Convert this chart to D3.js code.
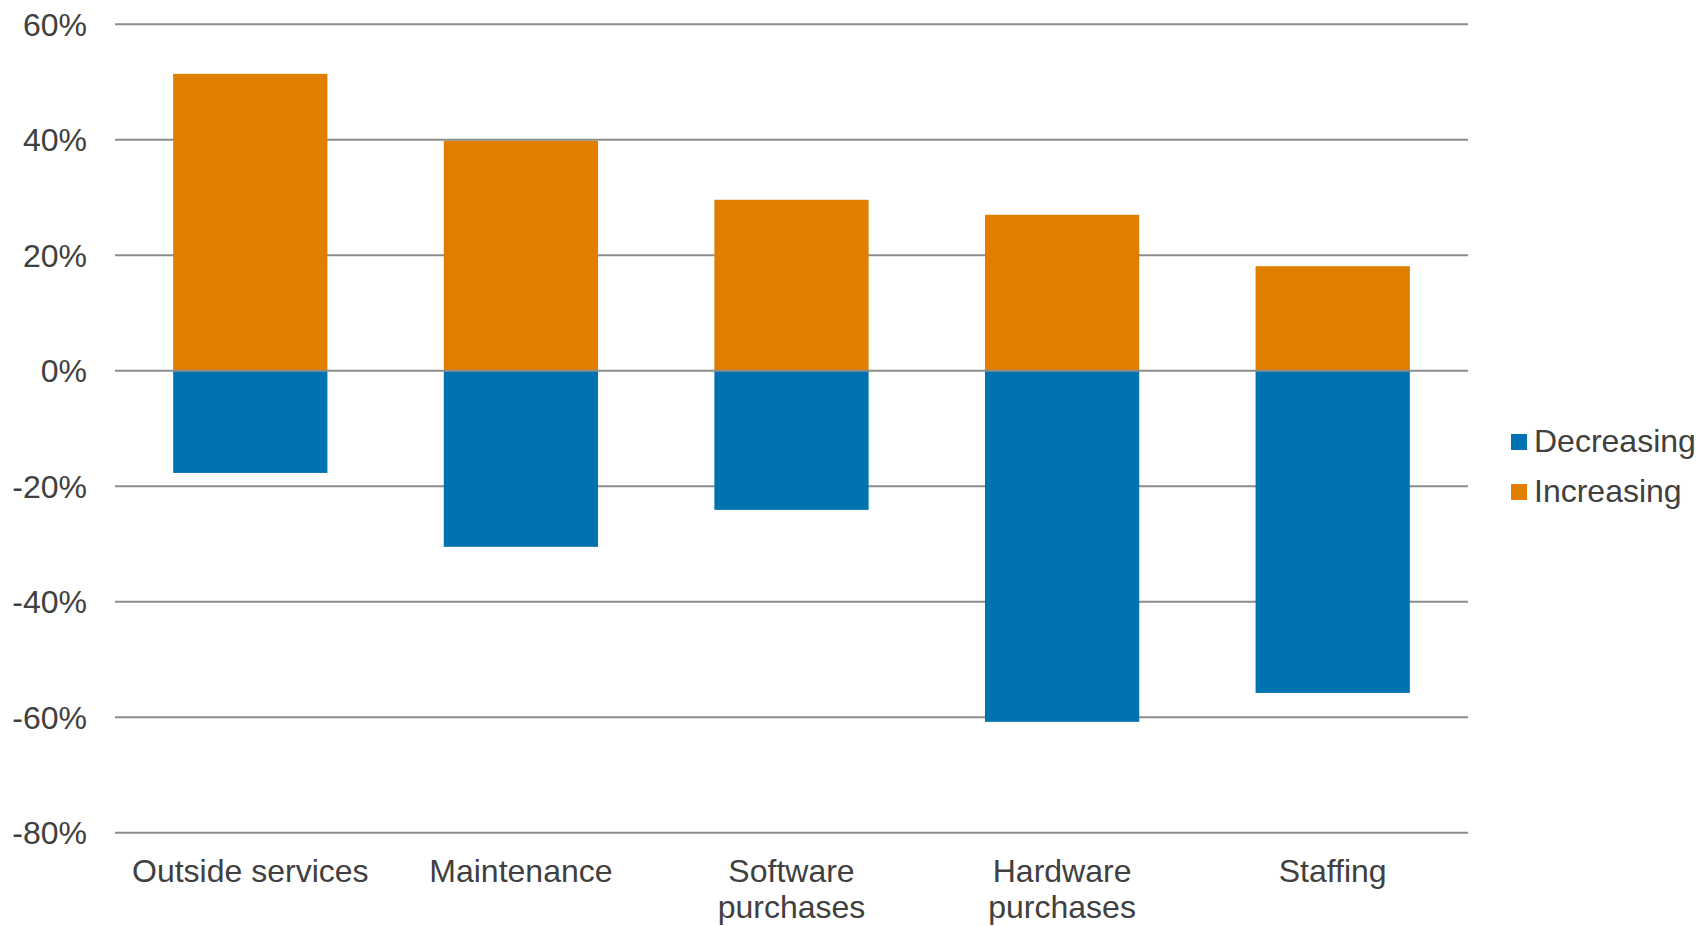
<!DOCTYPE html>
<html>
<head>
<meta charset="utf-8">
<script src="https://cdn.jsdelivr.net/npm/d3@7"></script>
<style>
  html, body { margin: 0; padding: 0; background: #fff; }
  svg { display: block; font-family: "Liberation Sans", Arial, sans-serif; }
</style>
</head>
<body>
<svg id="chart" width="1705" height="926"></svg>
<script>
// Share of respondents expecting each budget line to rise or fall (%)
const categories = [
  ["Outside services"],
  ["Maintenance"],
  ["Software", "purchases"],
  ["Hardware", "purchases"],
  ["Staffing"]
];
const increasing = [51.4, 39.8, 29.6, 27.0, 18.1];
const decreasing = [-17.7, -30.5, -24.1, -60.8, -55.8];
const yTicks = [60, 40, 20, 0, -20, -40, -60, -80];
const seriesNames = ["Decreasing", "Increasing"];
const seriesColors = { Decreasing: "#0072AF", Increasing: "#E07E00" };

const svg = d3.select("#chart");
const plotLeft = 115, plotRight = 1468, plotTop = 24.2, plotBottom = 832.7;
const textColor = "#404040";
const gridColor = "#8c8c8c";
const fontSize = 32;

const keys = categories.map(c => c.join(" "));
const x = d3.scaleBand().domain(keys).range([plotLeft, plotRight])
  .paddingInner(0.43).paddingOuter(0.215);
const y = d3.scaleLinear().domain([-80, 60]).range([plotBottom, plotTop]);

// horizontal gridlines
svg.append("g").selectAll("line").data(yTicks.filter(t => t !== 0)).join("line")
  .attr("x1", plotLeft).attr("x2", plotRight)
  .attr("y1", d => y(d)).attr("y2", d => y(d))
  .attr("stroke", gridColor).attr("stroke-width", 2);

// y tick labels
svg.append("g").selectAll("text").data(yTicks).join("text")
  .attr("x", 87).attr("y", d => y(d))
  .attr("dy", "0.36em")
  .attr("text-anchor", "end")
  .attr("font-size", fontSize).attr("fill", textColor)
  .text(d => d + "%");

// bars
const bars = svg.append("g");
bars.selectAll("rect.inc").data(increasing).join("rect")
  .attr("class", "inc")
  .attr("x", (d, i) => x(keys[i])).attr("width", x.bandwidth())
  .attr("y", d => y(d)).attr("height", d => y(0) - y(d))
  .attr("fill", seriesColors.Increasing);
bars.selectAll("rect.dec").data(decreasing).join("rect")
  .attr("class", "dec")
  .attr("x", (d, i) => x(keys[i])).attr("width", x.bandwidth())
  .attr("y", y(0)).attr("height", d => y(d) - y(0))
  .attr("fill", seriesColors.Decreasing);

// zero line drawn over the bars
svg.append("line")
  .attr("x1", plotLeft).attr("x2", plotRight)
  .attr("y1", y(0)).attr("y2", y(0))
  .attr("stroke", gridColor).attr("stroke-width", 2);

// category labels
const catG = svg.append("g");
categories.forEach((lines, i) => {
  const cx = x(keys[i]) + x.bandwidth() / 2;
  const t = catG.append("text")
    .attr("x", cx).attr("y", 882)
    .attr("text-anchor", "middle")
    .attr("font-size", fontSize).attr("fill", textColor);
  lines.forEach((ln, j) => {
    t.append("tspan").attr("x", cx).attr("dy", j === 0 ? 0 : 36).text(ln);
  });
});

// legend
const legend = svg.append("g").attr("transform", "translate(1511,434)");
seriesNames.forEach((name, i) => {
  const g = legend.append("g").attr("transform", `translate(0,${i * 50})`);
  g.append("rect").attr("width", 16).attr("height", 16).attr("fill", seriesColors[name]);
  g.append("text").attr("x", 23).attr("y", 18)
    .attr("font-size", fontSize).attr("fill", textColor).text(name);
});
</script>
</body>
</html>
